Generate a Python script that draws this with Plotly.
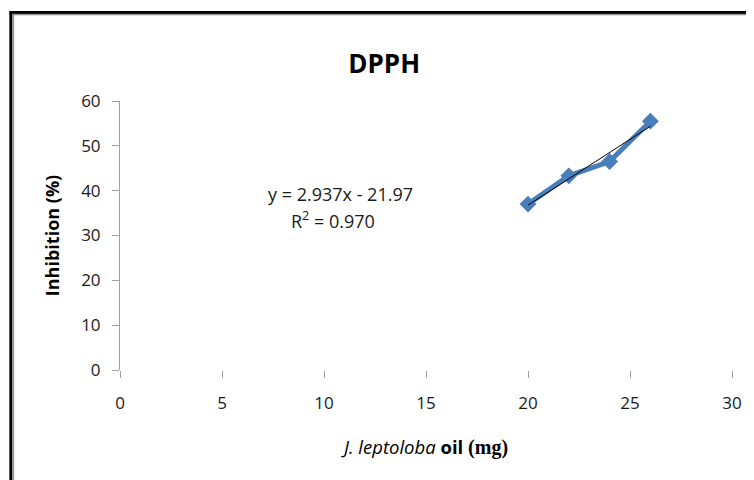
import numpy as np
import plotly.graph_objects as go

# ---- data ----
oil_mg = [20, 22, 24, 26]
inhibition = [37.0, 43.3, 46.5, 55.5]
x_ticks = [0, 5, 10, 15, 20, 25, 30]
y_ticks = [0, 10, 20, 30, 40, 50, 60]
equation_text = "y = 2.937x - 21.97"
r2_text = "R<sup>2</sup> = 0.970"

# linear trendline fitted from the data
slope, intercept = np.polyfit(oil_mg, inhibition, 1)
trend_x = [min(oil_mg), max(oil_mg)]
trend_y = [slope * v + intercept for v in trend_x]

OFF = 8                      # page body margin
W, H = 754 - OFF, 480 - OFF  # figure size
PL, PR, PT, PB = 120, 734, 101, 370  # plot area in window pixels
ML, MR = PL - OFF, W - (PR - OFF)
MT, MB = PT - OFF, H - (PB - OFF)
PW, PH = PR - PL, PB - PT


def px(xp):
    return (xp - PL) / PW


def py(yp):
    return (PB - yp) / PH


FONT = "Open Sans"
BLUE = "#4a7ebb"
TXT = "#1a1a1a"

fig = go.Figure()
fig.add_trace(go.Scatter(
    x=oil_mg, y=inhibition, mode="lines+markers",
    line=dict(color=BLUE, width=5),
    marker=dict(symbol="diamond", size=13, color=BLUE),
    showlegend=False, hoverinfo="x+y"))
fig.add_trace(go.Scatter(
    x=trend_x, y=trend_y, mode="lines",
    line=dict(color="black", width=1),
    showlegend=False, hoverinfo="skip"))

xtitle = ("<i>J. leptoloba</i> <b>oil</b> "
          "<b><span style='font-family:Liberation Serif;font-size:20px'>(mg)</span></b>")

fig.update_layout(
    width=W, height=H,
    margin=dict(l=ML, r=MR, t=MT, b=MB, pad=0),
    paper_bgcolor="white", plot_bgcolor="white",
    font=dict(family=FONT, color=TXT, size=17),
    title=dict(text="<b>DPPH</b>", x=px(385), xref="paper", xanchor="center",
               y=1 - (64 - OFF) / H, yanchor="middle",
               font=dict(family=FONT, size=26, color="black")),
    xaxis=dict(range=[0, 30], tickvals=x_ticks, showline=False, showgrid=False,
               zeroline=False, ticks="outside", ticklen=7, tickwidth=1,
               tickcolor="#a0a0a0", ticklabelstandoff=11,
               tickfont=dict(size=17, color=TXT),
               title=dict(text=xtitle, font=dict(size=18.5, color="black"), standoff=27)),
    yaxis=dict(range=[0, 60], tickvals=y_ticks, showline=True, linecolor="#a0a0a0",
               linewidth=1, showgrid=False, zeroline=False, ticks="outside",
               ticklen=7, tickwidth=1, tickcolor="#a0a0a0", ticklabelstandoff=8,
               tickfont=dict(size=17, color=TXT),
               title=dict(text="<b>Inhibition (%)</b>",
                          font=dict(size=18, color="black"), standoff=16)),
    annotations=[
        dict(text=equation_text, xref="paper", yref="paper", x=px(341), y=py(194),
             showarrow=False, xanchor="center", yanchor="middle",
             font=dict(size=18, color=TXT)),
        dict(text=r2_text, xref="paper", yref="paper", x=px(334), y=py(220),
             showarrow=False, xanchor="center", yanchor="middle",
             font=dict(size=18, color=TXT)),
    ],
    shapes=[
        # outer black frame (left and top visible)
        dict(type="line", xref="paper", yref="paper", x0=px(10.5), x1=px(10.5),
             y0=py(12.5), y1=py(500), line=dict(color="black", width=3)),
        dict(type="line", xref="paper", yref="paper", x0=px(9), x1=px(770),
             y0=py(12.5), y1=py(12.5), line=dict(color="black", width=3)),
        # inner gray frame
        dict(type="line", xref="paper", yref="paper", x0=px(13), x1=px(13),
             y0=py(14.5), y1=py(500), line=dict(color="#909090", width=1.5)),
        dict(type="line", xref="paper", yref="paper", x0=px(12), x1=px(770),
             y0=py(14.5), y1=py(14.5), line=dict(color="#909090", width=1.5)),
    ],
)

fig.write_html("out.html")
